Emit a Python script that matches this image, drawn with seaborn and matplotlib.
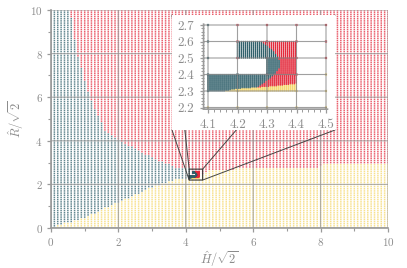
import numpy as np
import pandas as pd
import matplotlib
matplotlib.use("Agg")
import matplotlib.pyplot as plt
import seaborn as sns
from matplotlib.patches import Rectangle, ConnectionPatch
from matplotlib.ticker import MultipleLocator, FormatStrFormatter

# ---------------- data ----------------
classes = ["teal", "red", "yellow"]
class_colors = ["#2f5f6a", "#e3283a", "#f5d768"]

# main sampling grid
main_step = 0.1
main_lo, main_hi = 0.0, 10.0

# teal / red boundary: boundary x for a given y (teal on the left)
tr_y = [2.30, 2.50, 2.70, 2.80, 3.12, 3.58, 4.04, 4.50, 6.00, 8.00, 10.00]
tr_x = [4.30, 4.15, 4.12, 3.70, 3.15, 2.55, 2.00, 1.60, 1.15, 0.77, 0.56]

# yellow boundary: boundary y for a given x (yellow below)
yb_x = [0.00, 0.18, 0.95, 1.96, 2.94, 3.62, 4.12, 4.40, 4.70, 5.60, 6.65, 7.95, 8.05, 10.00]
yb_y = [0.00, 0.10, 0.46, 1.15, 1.83, 2.20, 2.30, 2.35, 2.62, 2.72, 2.74, 2.75, 2.90, 2.97]

# refined patches shown in the inset: (x0, x1, y0, y1)
fine_rects = [(4.1, 4.4, 2.3, 2.4), (4.3, 4.4, 2.4, 2.5), (4.2, 4.4, 2.5, 2.6)]
fine_step_x = 0.0068
fine_step_y = 0.004
# refined teal / red boundary
ti_y = [2.30, 2.31, 2.35, 2.40, 2.45, 2.50, 2.55, 2.60]
ti_x = [4.22, 4.255, 4.29, 4.325, 4.345, 4.34, 4.32, 4.28]
# refined yellow boundary
yi_x = [4.10, 4.16, 4.20, 4.30, 4.40]
yi_y = [2.29, 2.30, 2.315, 2.326, 2.345]

# zoom window
zoom_x = (4.1, 4.5)
zoom_y = (2.2, 2.7)
main_ticks = [0, 2, 4, 6, 8, 10]
inset_xticks = [4.1, 4.2, 4.3, 4.4, 4.5]
inset_yticks = [2.2, 2.3, 2.4, 2.5, 2.6, 2.7]


def classify(x, y, bx, by, tx, ty):
    yel = y <= np.interp(x, bx, by) + 1e-9
    teal = x < np.interp(y, ty, tx)
    return np.where(yel, "yellow", np.where(teal, "teal", "red"))


g = np.round(np.arange(main_lo, main_hi + 1e-9, main_step), 3)
MX, MY = np.meshgrid(g, g)
mx, my = MX.ravel(), MY.ravel()
main_df = pd.DataFrame({"x": mx, "y": my,
                        "cls": classify(mx, my, yb_x, yb_y, tr_x, tr_y)})

parts = []
for (x0, x1, y0, y1) in fine_rects:
    fx = np.arange(x0, x1 + 1e-9, fine_step_x)
    fy = np.arange(y0, y1 + 1e-9, fine_step_y)
    FX, FY = np.meshgrid(fx, fy)
    parts.append(pd.DataFrame({"x": FX.ravel(), "y": FY.ravel()}))
fine_df = pd.concat(parts, ignore_index=True)
fine_df["cls"] = classify(fine_df["x"].values, fine_df["y"].values, yi_x, yi_y, ti_x, ti_y)

palette = dict(zip(classes, class_colors))

# ---------------- style ----------------
sns.set_theme(style="white")
plt.rcParams["font.family"] = ["cmr10", "DejaVu Serif"]
plt.rcParams["mathtext.fontset"] = "cm"
plt.rcParams["axes.formatter.use_mathtext"] = True
plt.rcParams["path.snap"] = False
gray = "#9a9a9a"
txt = "#8c8c8c"

W, H = 407, 268
fig = plt.figure(figsize=(W / 100, H / 100), dpi=100)
ax = fig.add_axes([51 / W, 1 - 228 / H, (388 - 51) / W, (228 - 10) / H])
ax.set_zorder(0)

sns.scatterplot(data=main_df, x="x", y="y", hue="cls", palette=palette, marker="s",
                s=1.2, linewidth=0, alpha=0.75, legend=False, ax=ax)
sns.scatterplot(data=fine_df, x="x", y="y", hue="cls", palette=palette, marker="s",
                s=0.3, linewidth=0, legend=False, ax=ax)

ax.set_xlim(0, 10)
ax.set_ylim(0, 10)
ax.set_xticks(main_ticks)
ax.set_yticks(main_ticks)
ax.xaxis.set_minor_locator(MultipleLocator(1))
ax.yaxis.set_minor_locator(MultipleLocator(1))
ax.grid(True, which="major", color=gray, lw=0.8, alpha=0.8)
ax.set_axisbelow(False)
for s in ["top", "right"]:
    ax.spines[s].set_visible(False)
for s in ["left", "bottom"]:
    ax.spines[s].set_color(gray)
    ax.spines[s].set_linewidth(1.2)
ax.tick_params(which="major", direction="out", length=3, width=0.9, color=gray,
               labelcolor=txt, labelsize=8, pad=3, left=True, bottom=True)
ax.tick_params(which="minor", direction="out", length=2, width=0.8, color=gray,
               left=True, bottom=True)
ax.set_xlabel(r"$\hat{H}/\sqrt{2}$", color=txt, fontsize=9, labelpad=1)
ax.set_ylabel(r"$\hat{R}/\sqrt{2}$", color=txt, fontsize=9, labelpad=3)

# small box marking the zoom window
ax.add_patch(Rectangle((zoom_x[0], zoom_y[0]), zoom_x[1] - zoom_x[0], zoom_y[1] - zoom_y[0],
                       fill=False, ec="#333333", lw=0.8, zorder=5))

# white frame behind the inset
fl, fr, ft, fb = 172 / W, 335 / W, 1 - 15 / H, 1 - 130 / H
corners_box = [(zoom_x[0], zoom_y[1]), (zoom_x[1], zoom_y[1]), (zoom_x[0], zoom_y[0]), (zoom_x[1], zoom_y[0])]
corners_fig = [(fl, ft), (fr, ft), (fl, fb), (fr, fb)]
for a, b in zip(corners_box, corners_fig):
    cp = ConnectionPatch(xyA=a, coordsA="data", axesA=ax, xyB=b, coordsB="figure fraction",
                         color="#444444", lw=0.7)
    cp.set_zorder(1.5)
    fig.add_artist(cp)
wb = Rectangle((fl, fb), fr - fl, ft - fb, transform=fig.transFigure, fc="white", ec="none", zorder=2)
fig.add_artist(wb)

# inset axes
ix0, ix1 = 4.085, 4.505
iy0, iy1 = 2.19, 2.705
px_l = 208 + (ix0 - 4.1) * 295
px_r = 208 + (ix1 - 4.1) * 295
py_t = 25 - (iy1 - 2.7) * 165
py_b = 25 + (2.7 - iy0) * 165
axi = fig.add_axes([px_l / W, 1 - py_b / H, (px_r - px_l) / W, (py_b - py_t) / H])
axi.set_zorder(3)
axi.patch.set_alpha(0)

sel = main_df[(main_df.x >= zoom_x[0] - 1e-6) & (main_df.x <= zoom_x[1] + 1e-6) &
              (main_df.y >= zoom_y[0] - 1e-6) & (main_df.y <= zoom_y[1] + 1e-6)]
sns.scatterplot(data=sel, x="x", y="y", hue="cls", palette=palette, marker="s",
                s=2.5, linewidth=0, legend=False, ax=axi, clip_on=False)
sns.scatterplot(data=fine_df, x="x", y="y", hue="cls", palette=palette, marker="s",
                s=0.8, linewidth=0, legend=False, ax=axi)
axi.set_xlim(ix0, ix1)
axi.set_ylim(iy0, iy1)
axi.set_xticks(inset_xticks)
axi.set_yticks(inset_yticks)
axi.xaxis.set_minor_locator(MultipleLocator(0.02))
axi.yaxis.set_minor_locator(MultipleLocator(0.02))
axi.grid(True, which="major", color="#888888", lw=0.8, alpha=0.8)
axi.set_axisbelow(False)
for s in ["top", "right"]:
    axi.spines[s].set_visible(False)
for s in ["left", "bottom"]:
    axi.spines[s].set_color(gray)
    axi.spines[s].set_linewidth(1.2)
axi.tick_params(which="major", direction="out", length=3, width=0.9, color=gray,
                labelcolor=txt, labelsize=9.5, pad=4, left=True, bottom=True)
axi.tick_params(which="minor", direction="out", length=2, width=0.7, color=gray,
                left=True, bottom=True)
axi.set_xlabel("")
axi.set_ylabel("")
axi.xaxis.set_major_formatter(FormatStrFormatter("%.1f"))
axi.yaxis.set_major_formatter(FormatStrFormatter("%.1f"))

fig.savefig("out.png", dpi=100)
